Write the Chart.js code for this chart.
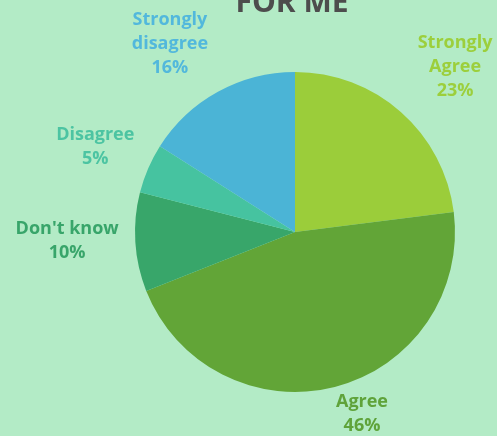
<!DOCTYPE html>
<html>
<head>
<meta charset="utf-8">
<script src="https://cdn.jsdelivr.net/npm/chart.js@4"></script>
<style>
  html, body { margin: 0; padding: 0; background: #b3ebc6; }
  #wrap { width: 497px; height: 436px; }
</style>
</head>
<body>
<div id="wrap"><canvas id="pieChart" width="497" height="436"></canvas></div>
<script>
const labels = ['Strongly\nAgree', 'Agree', "Don't know", 'Disagree', 'Strongly\ndisagree'];
const values = [23, 46, 10, 5, 16];
const colors = ['#9bcd3a', '#62a537', '#38a66a', '#46c3a0', '#4bb4d6'];
const textColors = ['#9ccf3c', '#5fa33a', '#38a56a', '#4cc4a2', '#52b8dc'];

// label placement: distance from centre and angle tweak (deg)
const labelDist = [230, 194, 228, 217, 226];
const labelTurn = [2.7, -5.8, 1.3, -0.4, -4.8];

const outsideLabels = {
    id: 'outsideLabels',
    afterDraw(chart) {
        const ctx = chart.ctx;
        const meta = chart.getDatasetMeta(0);
        const total = values.reduce((a, b) => a + b, 0);
        ctx.save();
        ctx.font = 'bold 18px "Open Sans", sans-serif';
        ctx.textAlign = 'center';
        ctx.textBaseline = 'middle';
        meta.data.forEach((arc, i) => {
            const mid = (arc.startAngle + arc.endAngle) / 2 + labelTurn[i] * Math.PI / 180;
            const x = arc.x + Math.cos(mid) * labelDist[i];
            const y = arc.y + Math.sin(mid) * labelDist[i];
            const lines = labels[i].split('\n');
            lines.push(Math.round(values[i] / total * 100) + '%');
            const lh = 24;
            ctx.fillStyle = textColors[i];
            lines.forEach((t, k) => {
                ctx.fillText(t, x, y + (k - (lines.length - 1) / 2) * lh);
            });
        });
        // title, cut off by the top edge as in the source
        ctx.fillStyle = '#4d4d4d';
        ctx.font = 'bold 30px "Open Sans", sans-serif';
        ctx.textBaseline = 'alphabetic';
        ctx.fillText('FOR ME', 292, 12);
        ctx.restore();
    }
};

new Chart(document.getElementById('pieChart').getContext('2d'), {
    type: 'pie',
    data: {
        labels: labels,
        datasets: [{
            data: values,
            backgroundColor: colors,
            borderWidth: 0
        }]
    },
    options: {
        responsive: false,
        animation: false,
        layout: { padding: { left: 135, right: 42, top: 72, bottom: 44 } },
        plugins: {
            legend: { display: false },
            tooltip: { enabled: false },
            title: { display: false }
        }
    },
    plugins: [outsideLabels]
});
</script>
</body>
</html>
